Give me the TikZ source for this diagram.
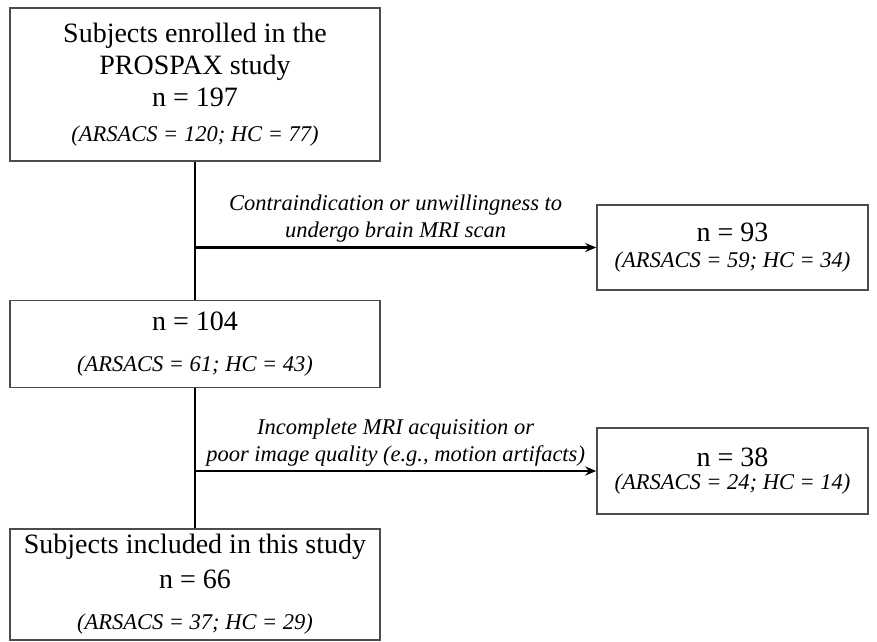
\documentclass[tikz,border=0pt]{standalone}
\usepackage{fontspec}
\setmainfont{Liberation Serif}
\usetikzlibrary{positioning}
\usetikzlibrary{arrows.meta}

\newcommand{\bigtxt}{\fontsize{28}{32}\selectfont}
\newcommand{\ittxt}{\fontsize{22.5}{27}\selectfont\itshape}

\tikzset{
  box/.style={draw=black!70, line width=1.5pt, fill=white, align=center, inner sep=0pt, font=\bigtxt},
  flow/.style={line width=2.6pt, black},
  arr/.style={flow, -{Stealth[length=11pt,width=9pt]}},
  note/.style={font=\ittxt, align=center, inner sep=2pt}
}

\begin{document}
\begin{tikzpicture}[x=1pt,y=-1pt]
            \useasboundingbox (0,0) rectangle (877,641);

            \node[box, minimum width=370pt, minimum height=153pt] (enrol) at (195,84.5)
              {Subjects enrolled in the\\PROSPAX study\\n = 197\\[3pt]{\ittxt (ARSACS = 120; HC = 77)}};
            \node[box, minimum width=370pt, minimum height=87pt] (mri) at (195,344)
              {n = 104\\[9pt]{\ittxt (ARSACS = 61; HC = 43)}};
            \node[box, minimum width=370pt, minimum height=111pt] (incl) at (195,584.5)
              {Subjects included in this study\\[3pt]n = 66\\[9pt]{\ittxt (ARSACS = 37; HC = 29)}};
            \node[box, minimum width=271pt, minimum height=85pt] (excl1) at (732.5,247.5)
              {n = 93\\[-6pt]{\ittxt (ARSACS = 59; HC = 34)}};
            \node[box, minimum width=271pt, minimum height=86pt] (excl2) at (732.5,471)
              {n = 38\\[-9pt]{\ittxt (ARSACS = 24; HC = 14)}};

            \coordinate (b1) at (enrol.south |- excl1.west);
            \coordinate (b2) at (mri.south |- excl2.west);

            \draw[flow] (enrol) -- (mri);
            \draw[flow] (mri) -- (incl);
            \draw[arr] (b1) -- node[note, above=2pt]
              {Contraindication or unwillingness to\\undergo brain MRI scan} (excl1);
            \draw[arr] (b2) -- node[note, above=1pt]
              {Incomplete MRI acquisition or\\poor image quality (e.g., motion artifacts)} (excl2);
          \end{tikzpicture}
\end{document}
